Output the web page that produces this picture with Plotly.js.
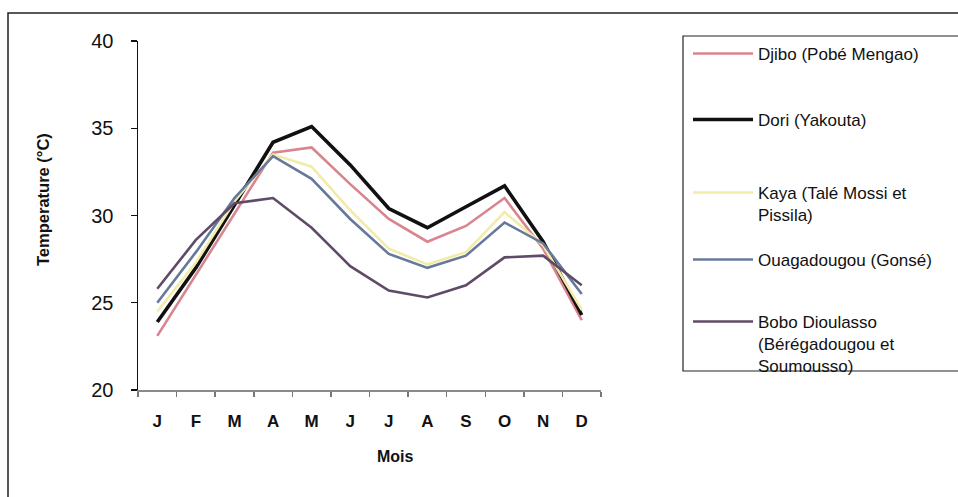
<!DOCTYPE html>
<html>
<head>
<meta charset="utf-8">
<script src="https://cdn.plot.ly/plotly-3.0.1.min.js"></script>
<style>html,body{margin:0;padding:0;background:#fff;}#chart{width:958px;height:497px;}</style>
</head>
<body>
<div id="chart"></div>
<script>
// Tick labels (months)
var months = ['J','F','M','A','M','J','J','A','S','O','N','D'];
// Series names
var seriesNames = [
  'Djibo (Pobé Mengao)',
  'Dori (Yakouta)',
  'Kaya (Talé Mossi et<br>Pissila)',
  'Ouagadougou (Gonsé)',
  'Bobo Dioulasso<br>(Bérégadougou et<br>Soumousso)'
];
// Monthly mean temperature (°C)
var djibo = [23.1, 26.6, 30.1, 33.6, 33.9, 31.8, 29.8, 28.5, 29.4, 31.0, 28.1, 24.0];
var dori  = [23.9, 27.0, 30.6, 34.2, 35.1, 32.9, 30.4, 29.3, 30.5, 31.7, 28.5, 24.3];
var kaya  = [24.5, 27.3, 30.8, 33.5, 32.8, 30.3, 28.1, 27.2, 27.9, 30.2, 28.3, 24.6];
var ouaga = [25.0, 27.9, 31.0, 33.4, 32.1, 29.8, 27.8, 27.0, 27.7, 29.6, 28.4, 25.5];
var bobo  = [25.8, 28.6, 30.7, 31.0, 29.3, 27.1, 25.7, 25.3, 26.0, 27.6, 27.7, 26.0];

var xIdx = months.map(function(_, i){ return i; });
var boundaries = months.map(function(_, i){ return i - 0.5; }).concat([months.length - 0.5]);

// pixel helpers for plot geometry
var L = 138, R = 601, T = 41, B = 390;
function px(xp){ return (xp - L) / (R - L); }
function py(yp){ return (B - yp) / (B - T); }

var styles = [
  {color:'#d9848e', width:2.6, legend:'legend',  top:36},
  {color:'#111111', width:3.6, legend:'legend2', top:102},
  {color:'#f2ecaa', width:2.6, legend:'legend3', top:175},
  {color:'#66799b', width:2.6, legend:'legend4', top:242},
  {color:'#5f4b67', width:2.6, legend:'legend5', top:304}
];
var values = [djibo, dori, kaya, ouaga, bobo];

var traces = values.map(function(v, i){
  return {
    x: xIdx, y: v, type:'scatter', mode:'lines',
    name: seriesNames[i],
    line:{color: styles[i].color, width: styles[i].width},
    legend: styles[i].legend,
    showlegend: true
  };
});

var legendFont = {family:'Liberation Sans, Arial, sans-serif', size:17, color:'#111'};
var layout = {
  width:958, height:497,
  margin:{l:L, r:958-R, t:T, b:497-B},
  paper_bgcolor:'#fff', plot_bgcolor:'#fff',
  font:{family:'Liberation Sans, Arial, sans-serif', color:'#111'},
  xaxis:{
    range:[-0.5, 11.5], tickmode:'array', tickvals:xIdx, ticktext:months,
    ticks:'', showgrid:false, zeroline:false,
    showline:true, linecolor:'#8a8a8a', linewidth:2,
    tickfont:{size:17, color:'#111', weight:'bold'},
    ticklabelstandoff:15,
    minor:{tickmode:'array', tickvals:boundaries, ticks:'outside', ticklen:5, tickcolor:'#777', tickwidth:1.5, showgrid:false}
  },
  yaxis:{
    range:[20,40], tickmode:'array', tickvals:[20,25,30,35,40],
    ticks:'outside', ticklen:6, tickcolor:'#111', tickwidth:1.2,
    showgrid:false, zeroline:false,
    showline:true, linecolor:'#111', linewidth:1.5,
    tickfont:{size:20, color:'#111'},
    ticklabelstandoff:13
  },
  annotations:[
    {text:'<b>Mois</b>', xref:'paper', yref:'paper', x:px(395), y:py(456), xanchor:'center', yanchor:'middle', showarrow:false, font:{size:16, color:'#111'}},
    {text:'<b>Temperature (°C)</b>', xref:'paper', yref:'paper', x:px(43), y:py(200), xanchor:'center', yanchor:'middle', textangle:-90, showarrow:false, font:{size:16.5, color:'#111'}}
  ],
  shapes:[
    {type:'rect', xref:'paper', yref:'paper', x0:px(8), x1:px(975), y0:py(13), y1:py(515), line:{color:'#222', width:1.5}, fillcolor:'rgba(0,0,0,0)', layer:'below'},
    {type:'rect', xref:'paper', yref:'paper', x0:px(683), x1:px(975), y0:py(36), y1:py(371), line:{color:'#222', width:1.2}, fillcolor:'rgba(0,0,0,0)', layer:'below'}
  ]
};
styles.forEach(function(s){
  layout[s.legend] = {
    x: px(688), xanchor:'left', y: py(s.top), yanchor:'top',
    bgcolor:'rgba(0,0,0,0)', borderwidth:0, font:legendFont,
    itemwidth:60, valign:'top', orientation:'v'
  };
});

Plotly.newPlot('chart', traces, layout, {displayModeBar:false, staticPlot:true});
</script>
</body>
</html>
